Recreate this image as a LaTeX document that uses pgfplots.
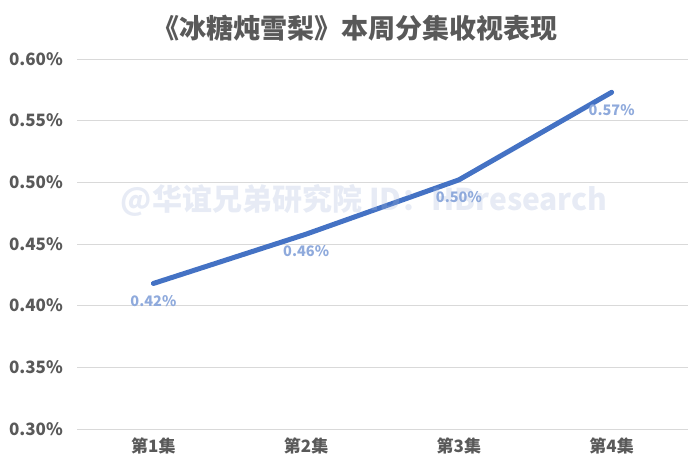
\documentclass[border=0pt]{standalone}
\usepackage{fontspec}
\setmainfont{Noto Sans CJK SC}
\usepackage{pgfplots}
\pgfplotsset{compat=1.18}
\definecolor{linebl}{HTML}{4472C4}
\definecolor{lblbl}{HTML}{8FAADC}
\definecolor{txtgray}{HTML}{595959}
\definecolor{gridc}{HTML}{D9D9D9}
\definecolor{wm}{HTML}{A5B6DA}
\begin{document}
\begin{tikzpicture}[x=1pt,y=1pt]
\path[use as bounding box] (0,0) rectangle (700,467);
\node[font=\fontsize{27}{30}\selectfont\bfseries, text=txtgray] at (355,439) {《冰糖炖雪梨》本周分集收视表现};
\begin{axis}[
  at={(77pt,38pt)}, anchor=south west,
  scale only axis, width=611pt, height=370pt,
  xmin=-0.5, xmax=3.5, ymin=0.3, ymax=0.6,
  xtick={0,1,2,3}, xticklabels={第1集,第2集,第3集,第4集},
  ytick={0.3,0.35,0.4,0.45,0.5,0.55,0.6},
  yticklabel={\pgfmathprintnumber[fixed,fixed zerofill,precision=2]{\tick}\%},
  /pgf/number format/assume math mode=true,
  axis line style={draw=none},
  major tick length=0pt,
  ymajorgrids, grid style={gridc, line width=1pt},
  tick label style={font=\fontsize{17}{20}\selectfont\bfseries, text=txtgray},
  yticklabel style={anchor=east, inner sep=0pt, xshift=-14pt},
  xticklabel style={anchor=north, inner sep=0pt, yshift=-9pt},
  clip=false,
  nodes near coords={\pgfmathprintnumber[fixed,fixed zerofill,precision=2]{\pgfplotspointmeta}\%},
  nodes near coords style={font=\fontsize{14.5}{16}\selectfont\bfseries, text=lblbl, anchor=north, yshift=-6pt},
]
\addplot[linebl, line width=5pt, line cap=round, line join=round, mark=none] coordinates {
  (0,0.418) (1,0.458) (2,0.502) (3,0.573)
};
\node[font=\fontsize{30}{32}\selectfont\bfseries, text=wm, text opacity=0.27] at (axis cs:1.38,0.485) {@华谊兄弟研究院 ID：HBresearch};
\end{axis}
\end{tikzpicture}
\end{document}
